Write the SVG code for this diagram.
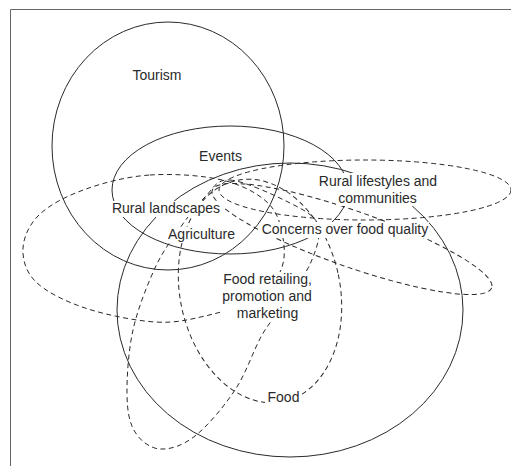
<svg xmlns="http://www.w3.org/2000/svg" width="511" height="466" viewBox="0 0 511 466">
<style>
.solid{fill:none;stroke:#2a2a2a;stroke-width:1}
.dash{fill:none;stroke:#2a2a2a;stroke-width:1;stroke-dasharray:5 3.5}
.ko{fill:#fff}
text{font-family:"Liberation Sans",Arial,sans-serif;font-size:14px;fill:#2a2a2a;text-anchor:middle}
</style>
<rect x="0" y="0" width="511" height="466" fill="#fff"/>
<path d="M10.5 466 V9.5 H511" fill="none" stroke="#666" stroke-width="1"/>
<g id="tourism"><ellipse class="solid" cx="168" cy="146" rx="116" ry="124"/></g>
<g id="events"><ellipse class="solid" cx="230" cy="190" rx="118" ry="64"/></g>
<g id="food"><ellipse class="solid" cx="290" cy="310" rx="173" ry="147"/></g>
<g id="rural-landscapes"><path class="dash" d="M150 175 C172.7 173.5 202.3 175.3 222 180 C241.7 184.7 257.8 193.3 268 203 C278.2 212.7 281 226.5 283 238 C285 249.5 285.2 261.7 280 272 C274.8 282.3 264.5 292.7 252 300 C239.5 307.3 221.2 312.3 205 316 C188.8 319.7 175 323.3 155 322 C135 320.7 104.8 314.7 85 308 C65.2 301.3 46.3 292 36 282 C25.7 272 22.3 259.3 23 248 C23.7 236.7 29.5 223.8 40 214 C50.5 204.2 67.7 195.5 86 189 C104.3 182.5 127.3 176.5 150 175 Z"/></g>
<g id="rural-lifestyles"><ellipse class="dash" cx="365" cy="190" rx="146" ry="30"/></g>
<g id="food-quality"><ellipse class="dash" cx="352" cy="239" rx="148" ry="28" transform="rotate(19.3 352 239)"/></g>
<g id="food-retailing"><ellipse class="dash" cx="260" cy="291" rx="80" ry="113" transform="rotate(-12 260 291)"/></g>
<g id="agriculture"><path class="dash" d="M230 180 C244.2 181 275.3 195.5 290 203 C304.7 210.5 314.5 215.2 318 225 C321.5 234.8 316.5 249 311 262 C305.5 275 293.2 290.8 285 303 C276.8 315.2 270.3 320.5 262 335 C253.7 349.5 246.2 373.2 235 390 C223.8 406.8 207.5 426.2 195 436 C182.5 445.8 170 449.7 160 449 C150 448.3 140.5 441 135 432 C129.5 423 127.3 412 127 395 C126.7 378 128.3 351.2 133 330 C137.7 308.8 147.2 285 155 268 C162.8 251 171.7 239.8 180 228 C188.3 216.2 196.7 205 205 197 C213.3 189 215.8 179 230 180 Z"/></g>
<g id="connectors"></g>
<g id="labels">
<rect class="ko" x="110" y="201" width="113" height="16"/>
<rect class="ko" x="166" y="227" width="71" height="16"/>
<rect class="ko" x="260" y="222" width="169" height="16"/>
<rect class="ko" x="317" y="173" width="122" height="17"/>
<rect class="ko" x="336" y="190" width="83" height="16"/>
<rect class="ko" x="220" y="272" width="94" height="50"/>
<rect class="ko" x="265" y="390" width="37" height="16"/>
<text x="157" y="80">Tourism</text>
<text x="220.5" y="161">Events</text>
<text x="378" y="186">Rural lifestyles and</text>
<text x="377.5" y="202.5">communities</text>
<text x="166" y="213">Rural landscapes</text>
<text x="201.5" y="239">Agriculture</text>
<text x="345" y="234">Concerns over food quality</text>
<text x="267.5" y="284">Food retailing,</text>
<text x="267" y="301">promotion and</text>
<text x="267.5" y="318">marketing</text>
<text x="283.5" y="402">Food</text>
</g>
</svg>
